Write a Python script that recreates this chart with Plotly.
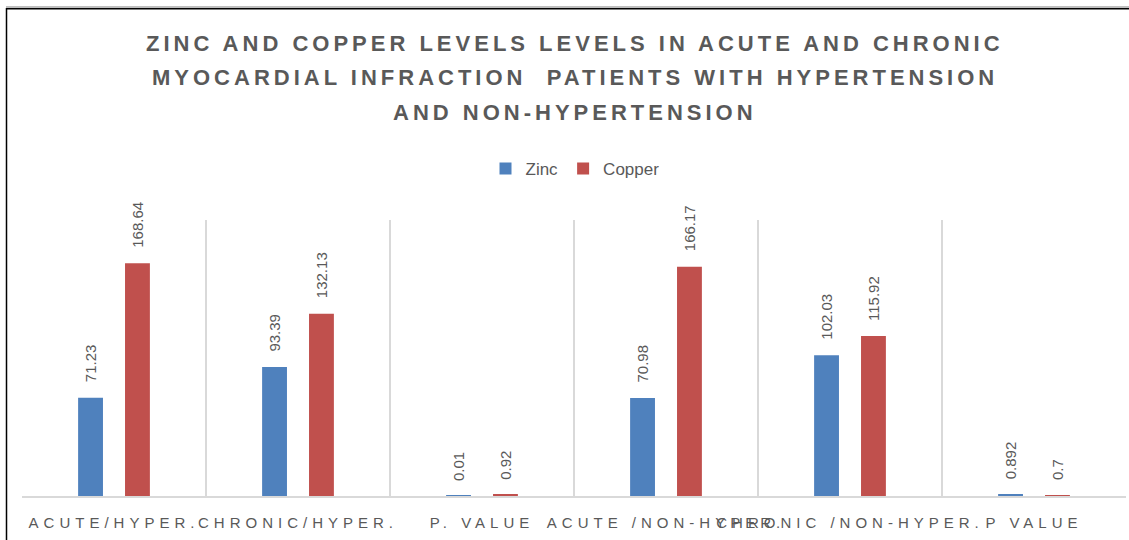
import plotly.graph_objects as go

categories = ["ACUTE/HYPER.", "CHRONIC/HYPER.", "P. VALUE", "ACUTE /NON-HYPER.", "CHRONIC /NON-HYPER.", "P VALUE"]
zinc = [71.23, 93.39, 0.01, 70.98, 102.03, 0.892]
copper = [168.64, 132.13, 0.92, 166.17, 115.92, 0.7]
zinc_labels = ["71.23", "93.39", "0.01", "70.98", "102.03", "0.892"]
copper_labels = ["168.64", "132.13", "0.92", "166.17", "115.92", "0.7"]
title_lines = [
    "ZINC AND COPPER LEVELS LEVELS IN ACUTE AND CHRONIC",
    "MYOCARDIAL INFRACTION  PATIENTS WITH HYPERTENSION",
    "AND NON-HYPERTENSION",
]

GRAY = "#595959"
FONT = "Liberation Sans"

def spaced(s, px):
    return f'<span style="letter-spacing:{px}px">{s}</span>'

fig = go.Figure()
for name, vals, color in [("Zinc", zinc, "#4F81BD"), ("Copper", copper, "#C0504D")]:
    fig.add_trace(go.Bar(
        name=name, x=categories, y=vals,
        marker=dict(color=color, line=dict(width=0)),
        hoverinfo="skip",
    ))

W, H = 1129, 540
L, R, T, B = 22, 3, 220, 44
pw, ph = W - L - R, H - T - B
slot = 23.5  # half-distance between the two bars of a group, px

def px_to_paper_y(y):
    return (H - B - y) / ph

def px_to_paper_x(x):
    return (x - L) / pw

annotations = []
for line, ypx in zip(title_lines, [43, 78, 112]):
    annotations.append(dict(
        text="<b>" + spaced(line.replace("  ", "\u00a0 "), 4) + "</b>",
        xref="paper", yref="paper", x=px_to_paper_x(575), y=px_to_paper_y(ypx),
        xanchor="center", yanchor="middle", showarrow=False,
        font=dict(family=FONT, size=22, color=GRAY),
    ))

for vals, labels, shift in [(zinc, zinc_labels, -slot), (copper, copper_labels, slot)]:
    for cat, v, lab in zip(categories, vals, labels):
        annotations.append(dict(
            text=lab, xref="x", yref="y", x=cat, y=v,
            xshift=shift, yshift=13, xanchor="center", yanchor="bottom",
            textangle=-90, showarrow=False,
            font=dict(family=FONT, size=15, color=GRAY),
        ))

shapes = [
    dict(type="line", xref="paper", yref="paper",
         x0=px_to_paper_x(6), x1=px_to_paper_x(1129), y0=px_to_paper_y(7), y1=px_to_paper_y(7),
         line=dict(color="#bfbfbf", width=2)),
    dict(type="line", xref="paper", yref="paper",
         x0=px_to_paper_x(6), x1=px_to_paper_x(1129), y0=px_to_paper_y(8.8), y1=px_to_paper_y(8.8),
         line=dict(color="#000000", width=1.5)),
    dict(type="line", xref="paper", yref="paper",
         x0=px_to_paper_x(6.5), x1=px_to_paper_x(6.5), y0=px_to_paper_y(8), y1=px_to_paper_y(540),
         line=dict(color="#000000", width=1.5)),
]

fig.update_layout(
    width=W, height=H,
    margin=dict(l=L, r=R, t=T, b=B, pad=0),
    paper_bgcolor="white", plot_bgcolor="white",
    barmode="group", bargap=0.49, bargroupgap=0.47,
    font=dict(family=FONT, color=GRAY),
    showlegend=True,
    legend=dict(orientation="h", x=px_to_paper_x(575), xanchor="center",
                y=px_to_paper_y(169), yanchor="middle",
                font=dict(family=FONT, size=17, color=GRAY)),
    annotations=annotations,
    shapes=shapes,
)
fig.update_xaxes(
    type="category", tickson="boundaries", showgrid=True,
    gridcolor="#d9d9d9", gridwidth=1.5,
    showline=True, linecolor="#d9d9d9", linewidth=1.5,
    ticks="", tickangle=0, ticklabelstandoff=12,
    tickvals=categories, ticktext=[spaced(c, 5) for c in categories],
    tickfont=dict(family=FONT, size=15, color=GRAY),
)
fig.update_yaxes(range=[0, 200], showgrid=False, showticklabels=False, zeroline=False, showline=False)

fig.write_html("out.html", config={"displayModeBar": False},
               post_script="document.body.style.margin='0';document.body.style.overflow='hidden';")
